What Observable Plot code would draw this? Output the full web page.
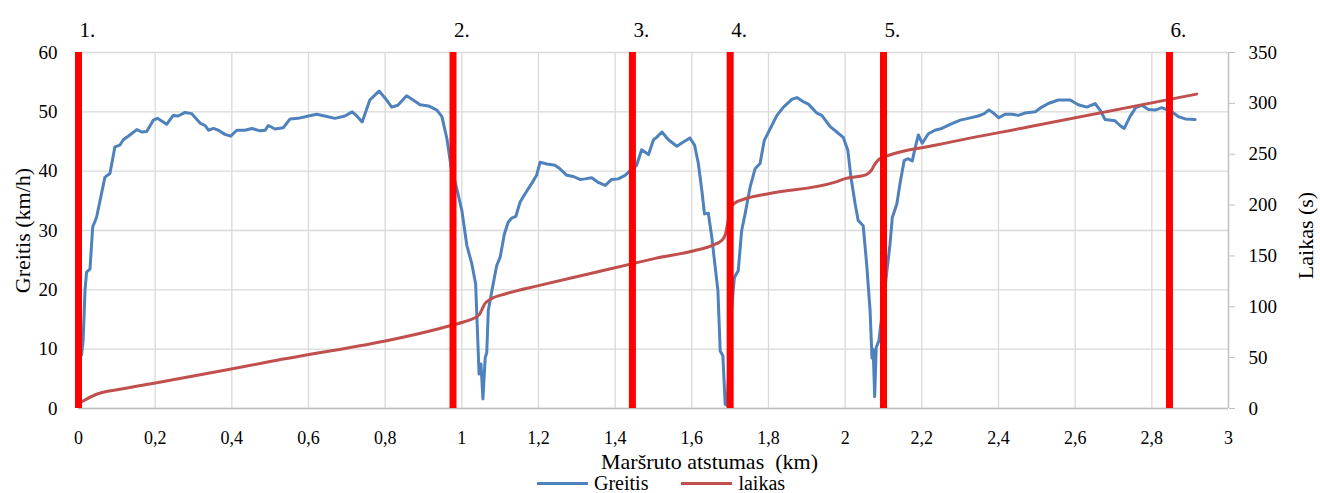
<!DOCTYPE html>
<html><head><meta charset="utf-8">
<script src="https://cdn.jsdelivr.net/npm/d3@7"></script>
<script src="https://cdn.jsdelivr.net/npm/@observablehq/plot@0.6"></script>
<style>
html,body{margin:0;padding:0;background:#fff;overflow:hidden;}
#wrap{position:relative;width:1320px;height:493px;font-family:'Liberation Serif','DejaVu Serif',serif;}
#legend{position:absolute;left:537px;top:473px;display:flex;align-items:center;font-size:20px;line-height:20px;color:#000;}
.sw{display:inline-block;width:51px;height:3px;margin-right:6px;}
.item{display:flex;align-items:center;margin-right:33px;}
svg text{font-family:'Liberation Serif','DejaVu Serif',serif;}
</style></head><body><div id="wrap"><div id="chart"></div><div id="legend"></div></div>
<script>
// Speed (Greitis, km/h) against route distance (km)
const distKm = [0.008,0.012,0.017,0.021,0.030,0.037,0.047,0.069,0.082,0.095,0.108,0.117,0.134,0.152,0.165,0.178,0.195,0.206,0.230,0.247,0.260,0.278,0.295,0.317,0.330,0.339,0.352,0.365,0.382,0.397,0.413,0.434,0.452,0.474,0.487,0.495,0.513,0.534,0.552,0.573,0.600,0.621,0.648,0.669,0.695,0.714,0.726,0.740,0.760,0.784,0.800,0.817,0.833,0.856,0.873,0.891,0.913,0.935,0.948,0.961,0.972,0.987,1.000,1.013,1.026,1.036,1.045,1.050,1.055,1.061,1.065,1.069,1.080,1.091,1.100,1.111,1.121,1.130,1.141,1.152,1.165,1.182,1.195,1.204,1.222,1.243,1.256,1.274,1.291,1.308,1.321,1.339,1.356,1.374,1.391,1.408,1.426,1.439,1.456,1.469,1.487,1.500,1.508,1.522,1.539,1.561,1.578,1.595,1.607,1.617,1.626,1.633,1.643,1.652,1.661,1.668,1.674,1.681,1.687,1.692,1.704,1.708,1.711,1.721,1.730,1.739,1.752,1.765,1.778,1.789,1.804,1.822,1.839,1.861,1.874,1.891,1.904,1.926,1.939,1.961,1.978,1.995,2.007,2.015,2.026,2.034,2.047,2.056,2.065,2.070,2.073,2.077,2.081,2.088,2.110,2.117,2.123,2.135,2.143,2.154,2.165,2.175,2.182,2.191,2.201,2.217,2.234,2.252,2.274,2.300,2.321,2.347,2.363,2.375,2.387,2.401,2.417,2.435,2.452,2.469,2.496,2.513,2.530,2.556,2.587,2.608,2.630,2.652,2.665,2.678,2.704,2.717,2.728,2.743,2.758,2.774,2.791,2.809,2.826,2.852,2.869,2.887,2.913];
const speedKmh = [9.0,11.4,19.9,23.0,23.5,30.6,32.2,39.0,39.6,44.1,44.4,45.3,46.1,47.0,46.6,46.7,48.6,48.9,47.9,49.4,49.3,49.9,49.7,48.1,47.7,46.9,47.2,46.9,46.2,45.9,46.9,46.9,47.2,46.8,46.9,47.7,47.1,47.3,48.8,48.9,49.3,49.6,49.2,48.9,49.3,50.0,49.3,48.3,52.0,53.5,52.3,50.8,51.1,52.7,52.0,51.2,51.0,50.3,49.2,45.5,40.7,37.0,33.4,27.5,24.4,21.0,5.8,7.5,1.6,8.6,9.4,16.5,20.4,24.1,25.5,29.4,31.4,32.1,32.4,34.8,36.2,37.9,39.3,41.5,41.2,41.0,40.4,39.3,39.1,38.6,38.7,38.9,38.1,37.6,38.6,38.7,39.3,40.1,41.0,43.6,42.8,45.3,45.7,46.6,45.3,44.2,44.9,45.6,44.4,41.3,36.8,32.8,32.9,28.9,23.8,19.9,9.7,8.9,0.7,0.5,17.0,19.9,22.1,23.2,30.0,32.8,37.3,40.4,41.3,45.2,47.1,49.4,50.8,52.1,52.4,51.7,51.3,49.8,49.4,47.5,46.6,45.7,43.5,39.0,34.5,31.7,30.8,24.4,16.5,8.5,10.0,2.0,10.3,11.4,23.8,27.7,32.2,34.5,37.9,41.8,42.1,41.7,43.8,46.1,44.7,46.3,46.9,47.2,47.9,48.6,48.9,49.3,49.7,50.3,49.8,49.0,49.6,49.6,49.4,49.8,50.0,50.8,51.4,52.0,52.0,51.2,50.8,51.4,50.3,48.7,48.5,47.7,47.2,49.2,50.7,51.1,50.4,50.3,50.7,50.0,49.2,48.8,48.7];

// Elapsed time (laikas, s) against route distance (km)
const timeDistKm = [0.000,0.012,0.047,0.108,0.204,0.395,0.487,0.969,1.008,1.030,1.045,1.052,1.060,1.075,1.113,1.200,1.330,1.443,1.504,1.608,1.652,1.680,1.688,1.695,1.702,1.710,1.739,1.800,1.974,2.000,2.055,2.068,2.078,2.090,2.110,2.234,2.480,2.917];
const timeSec = [4.7,7.4,14.0,18.9,25.4,38.6,45.2,81.3,85.5,88.5,92.0,97.0,103.0,107.5,112.6,120.8,132.3,142.2,147.6,155.3,160.2,166.0,172.0,185.0,197.0,201.5,206.2,211.2,222.6,226.0,230.0,234.0,240.5,245.5,248.5,258.8,277.0,309.1];

// Marked points
const markerKm = [0, 0.977, 1.445, 1.70, 2.10, 2.846];
const markerLabels = ["1.", "2.", "3.", "4.", "5.", "6."];

// Axes
const xTicks = [0,0.2,0.4,0.6,0.8,1,1.2,1.4,1.6,1.8,2,2.2,2.4,2.6,2.8,3];
const leftTicks = [0,10,20,30,40,50,60];
const rightTicks = [0,50,100,150,200,250,300,350];
const seriesNames = ["Greitis", "laikas"];
const seriesColors = ["#4F81BD", "#C0504D"];
const xTitle = "Maršruto atstumas  (km)";
const yLeftTitle = "Greitis (km/h)";
const yRightTitle = "Laikas (s)";

const k = leftTicks[leftTicks.length-1] / rightTicks[rightTicks.length-1];
const speedData = distKm.map((d, i) => ({d, v: speedKmh[i]}));
const timeData = timeDistKm.map((d, i) => ({d, t: timeSec[i]}));
const markers = markerKm.map((d, i) => ({d, label: markerLabels[i]}));
const fmt = d => String(+(+d).toFixed(1)).replace(".", ",");
const serif = "'Liberation Serif', 'DejaVu Serif', serif";

const chart = Plot.plot({
  width: 1320, height: 470,
  marginLeft: 78, marginRight: 92, marginTop: 52, marginBottom: 62,
  style: {fontFamily: serif, fontSize: "19px", color: "#000", background: "#fff", overflow: "visible"},
  x: {domain: [0, 3]},
  y: {domain: [0, 60]},
  marks: [
    Plot.gridX(xTicks, {stroke: "#d9d9d9", strokeOpacity: 1, strokeWidth: 1.3}),
    Plot.gridY(leftTicks, {stroke: "#d9d9d9", strokeOpacity: 1, strokeWidth: 1.3}),
    Plot.ruleY([0], {stroke: "#bfbfbf", strokeWidth: 1.3}),
    Plot.ruleX([xTicks[xTicks.length-1]], {stroke: "#bfbfbf", strokeWidth: 1.3}),
    Plot.axisX(xTicks, {tickSize: 0, tickPadding: 23, tickFormat: fmt, label: null, fontSize: 18}),
    Plot.axisY(leftTicks, {anchor: "left", tickSize: 0, tickPadding: 21, label: null, fontSize: 19}),
    Plot.axisY(rightTicks.map(t => t * k), {anchor: "right", tickSize: 6, tickPadding: 14, stroke: "#bfbfbf", tickFormat: d => Math.round(d / k), label: null, fontSize: 19}),
    Plot.line(speedData, {x: "d", y: "v", stroke: seriesColors[0], strokeWidth: 3, strokeLinejoin: "round"}),
    Plot.line(timeData, {x: "d", y: d => d.t * k, stroke: seriesColors[1], strokeWidth: 3, strokeLinejoin: "round", curve: "monotone-x"}),
    Plot.ruleX(markers, {x: "d", stroke: "#ff0000", strokeWidth: 7}),
    Plot.text(markers, {x: "d", text: "label", frameAnchor: "top", dy: -22, dx: 1, textAnchor: "start", lineAnchor: "middle", fontSize: 21}),
    Plot.text([yLeftTitle], {text: d => d, frameAnchor: "left", rotate: -90, dx: -56, textAnchor: "middle", lineAnchor: "middle", fontSize: 22}),
    Plot.text([yRightTitle], {text: d => d, frameAnchor: "right", rotate: -90, dx: 77, dy: 5, textAnchor: "middle", lineAnchor: "middle", fontSize: 22}),
    Plot.text([xTitle], {text: d => d, frameAnchor: "bottom", dx: 56, dy: 53, textAnchor: "middle", lineAnchor: "middle", fontSize: 22})
  ]
});
document.getElementById("chart").appendChild(chart);

const legend = document.getElementById("legend");
seriesNames.forEach((name, i) => {
  const item = document.createElement("div");
  item.className = "item";
  const sw = document.createElement("span");
  sw.className = "sw";
  sw.style.background = seriesColors[i];
  item.appendChild(sw);
  const lab = document.createElement("span");
  lab.textContent = name;
  item.appendChild(lab);
  legend.appendChild(item);
});
</script></body></html>
